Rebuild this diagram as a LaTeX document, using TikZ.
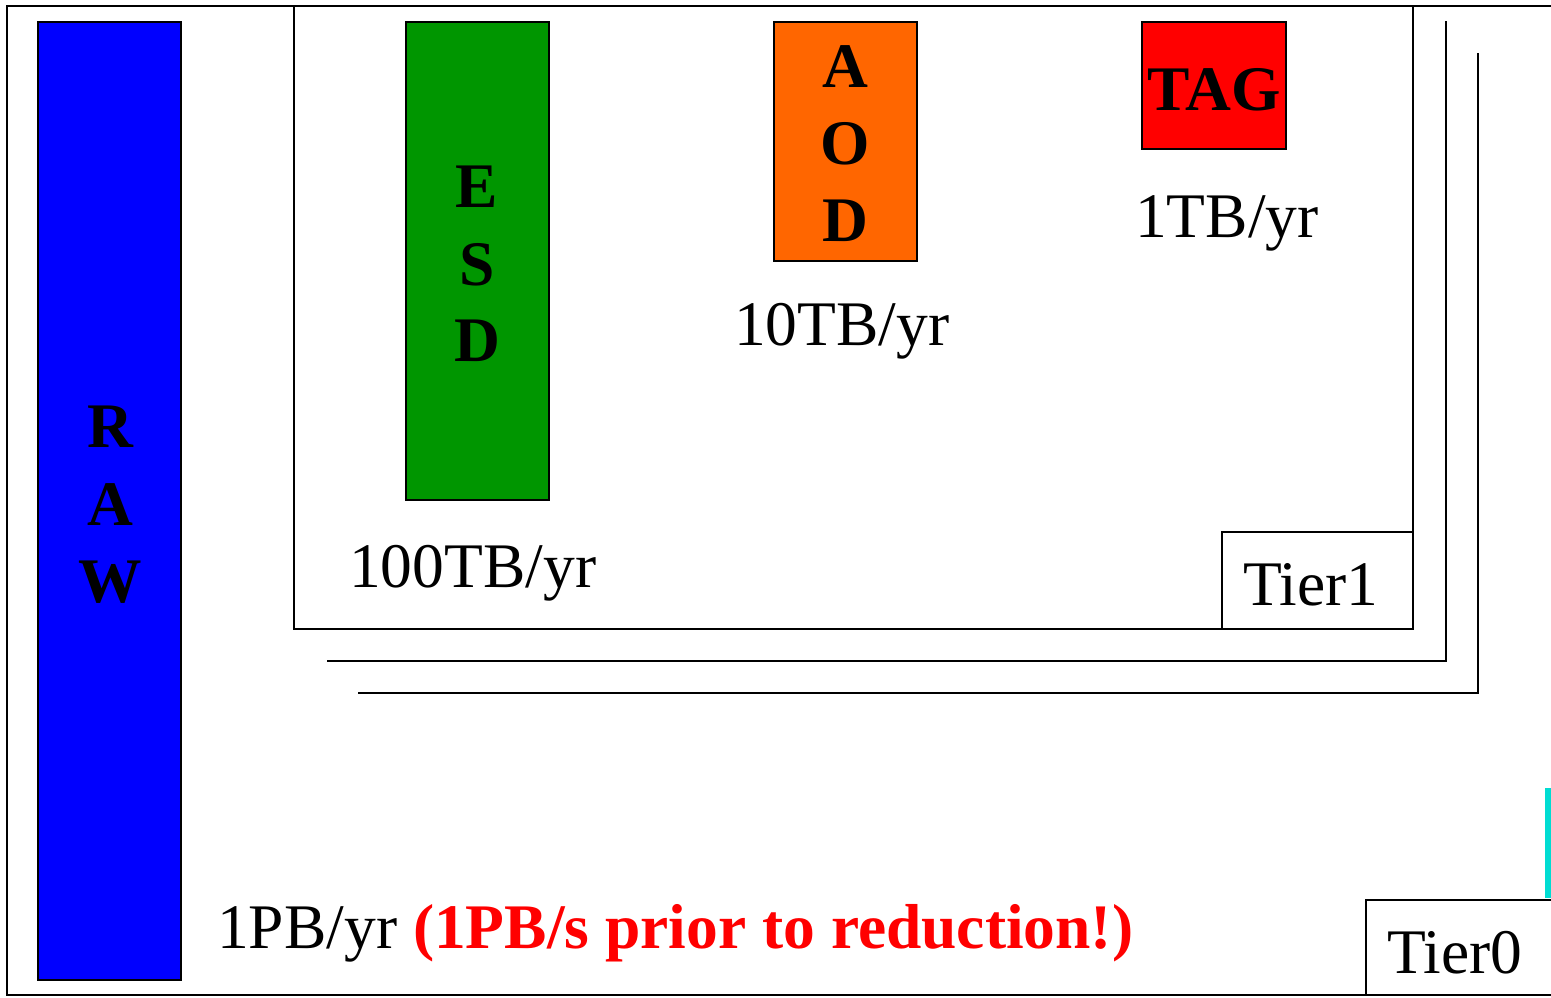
\documentclass[tikz,border=0pt]{standalone}
\usepackage{fontspec}
\setmainfont{Liberation Serif}
\begin{document}
\begin{tikzpicture}[x=1pt,y=-1pt,
  frame/.style={draw=black,line width=2.8pt},
  thinline/.style={draw=black,line width=2.6pt},
  databox/.style={draw=black,line width=2.4pt},
  txt/.style={inner sep=0pt,anchor=base west,font=\fontsize{63.5}{76}\selectfont},
  letter/.style={inner sep=0pt,anchor=base,font=\fontsize{63.5}{76}\selectfont\bfseries}]
\useasboundingbox (0,0) rectangle (1551,997);
\begin{scope}
\clip (0,0) rectangle (1551,997);
\fill[white] (0,0) rectangle (1551,997);
% Tier0 outer frame
\draw[frame] (7,6) rectangle (1600,995);
% cyan bar at right edge
\fill[color={rgb,255:red,0;green,220;blue,210}] (1545,788) rectangle (1560,898);
% Tier0 label box
\draw[frame,fill=white] (1366,900) rectangle (1600,995);
\end{scope}
\node[txt] (t0) at (1387,973) {Tier0};
% RAW
\draw[databox,fill={rgb,255:red,0;green,0;blue,255}] (38,22) rectangle (181,980);
\node[letter] (r1) at (110,447) {R};
\node[letter] (r2) at (110,525) {A};
\node[letter] (r3) at (110,602) {W};
% stacked Tier2.. frames
\draw[thinline] (358,693) -- (1478,693) -- (1478,53);
\draw[thinline] (327,661) -- (1446,661) -- (1446,21);
% Tier1 frame
\draw[frame,fill=white] (294,6) rectangle (1413,629);
\draw[frame,fill=white] (1222,532) rectangle (1413,629);
\node[txt] (t1) at (1243,605) {Tier1};
% ESD
\draw[databox,fill={rgb,255:red,0;green,150;blue,0}] (406,22) rectangle (549,500);
\node[letter] (e1) at (477,207) {E};
\node[letter] (e2) at (477,285) {S};
\node[letter] (e3) at (477,361) {D};
% AOD
\draw[databox,fill={rgb,255:red,255;green,102;blue,0}] (774,22) rectangle (917,261);
\node[letter] (a1) at (845,87) {A};
\node[letter] (a2) at (845,164) {O};
\node[letter] (a3) at (845,241) {D};
% TAG
\draw[databox,fill={rgb,255:red,255;green,0;blue,0}] (1142,22) rectangle (1286,149);
\node[letter] (tag) at (1214,110) {TAG};
% rates
\node[txt] (esdrate) at (349,587) {100TB/yr};
\node[txt] (aodrate) at (734,345) {10TB/yr};
\node[txt] (tagrate) at (1135,237) {1TB/yr};
\node[txt] (rawrate) at (217,948) {1PB/yr {\color{red}\bfseries(1PB/s prior to reduction!)}};
\end{tikzpicture}
\end{document}
